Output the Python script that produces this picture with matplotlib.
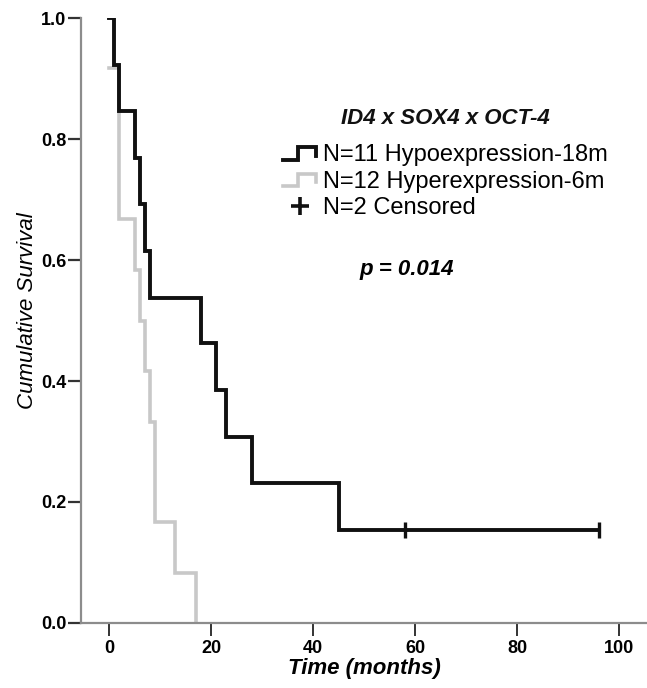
import matplotlib
matplotlib.use("Agg")
import matplotlib.pyplot as plt
from matplotlib.legend_handler import HandlerBase
from matplotlib.lines import Line2D

plt.rcParams["font.family"] = ["Liberation Sans", "DejaVu Sans"]

# Kaplan-Meier steps
hypo_time = [0, 1, 2, 5, 6, 7, 8, 18, 21, 23, 28, 45, 96]
hypo_surv = [1.0, 0.923, 0.846, 0.769, 0.692, 0.615, 0.538, 0.462, 0.385, 0.308, 0.231, 0.154, 0.154]
hyper_time = [0, 2, 5, 6, 7, 8, 9, 13, 17]
hyper_surv = [0.917, 0.667, 0.583, 0.5, 0.417, 0.333, 0.167, 0.083, 0.0]
censor_time = [58, 96]
censor_surv = [0.154, 0.154]

legend_title = "ID4 x SOX4 x OCT-4"
labels = ["N=11 Hypoexpression-18m", "N=12 Hyperexpression-6m", "N=2 Censored"]
x_ticks = [0, 20, 40, 60, 80, 100]
y_ticks = [0.0, 0.2, 0.4, 0.6, 0.8, 1.0]

BLACK = "#111111"
GREY = "#c8c8c8"
SPINE = "#8c8c8c"


class StepHandler(HandlerBase):
    def create_artists(self, legend, orig, xd, yd, width, height, fontsize, trans):
        x0, x1 = -xd, -xd + width
        lo, hi = -yd + 0.1 * height, -yd + 0.85 * height
        xm = x0 + 0.45 * width
        line = Line2D([x0, xm, xm, x1, x1], [lo, lo, hi, hi, lo + 0.25 * height],
                      color=orig.get_color(), lw=orig.get_linewidth(),
                      solid_joinstyle="miter", transform=trans)
        return [line]


fig = plt.figure(figsize=(6.47, 6.88), dpi=100)
ax = fig.add_axes([0.1252, 0.0945, 0.8748, 0.8793])

(hyper_line,) = ax.step(hyper_time, hyper_surv, where="post", color=GREY, lw=2.6,
                        solid_joinstyle="miter")
(hypo_line,) = ax.step(hypo_time, hypo_surv, where="post", color=BLACK, lw=2.8,
                       solid_joinstyle="miter")
ax.plot(censor_time, censor_surv, ls="none", marker="|", ms=11, mew=2.4, color=BLACK)
cens_handle = Line2D([], [], ls="none", marker="+", ms=13, mew=2.6, color=BLACK)

ax.set_xlim(-5.5, 105.5)
ax.set_ylim(0, 1.0)
ax.set_xticks(x_ticks)
ax.set_yticks(y_ticks)
ax.set_yticklabels([f"{v:.1f}" for v in y_ticks])
for side in ["top", "right"]:
    ax.spines[side].set_visible(False)
for side in ["left", "bottom"]:
    ax.spines[side].set_color(SPINE)
    ax.spines[side].set_linewidth(1.6)
ax.tick_params(axis="y", length=9.5, width=1.6, color="#333333", pad=1,
               labelsize=13)
ax.tick_params(axis="x", length=9, width=1.4, color="#333333", pad=3,
               labelsize=13)
for lab in ax.get_xticklabels() + ax.get_yticklabels():
    lab.set_fontweight("bold")

ax.set_xlabel("Time (months)", fontsize=16, fontweight="bold", style="italic",
              labelpad=1)
ax.set_ylabel("Cumulative Survival", fontsize=16, style="italic", labelpad=2)
ax.yaxis.label.set_y(0.517)

leg = ax.legend([hypo_line, hyper_line, cens_handle], labels,
                handler_map={hypo_line: StepHandler(), hyper_line: StepHandler()},
                title=legend_title,
                title_fontproperties={"size": 16, "weight": "bold", "style": "italic"},
                fontsize=17, frameon=False, loc="upper left",
                bbox_to_anchor=(0.357, 0.851), borderaxespad=0, borderpad=0,
                handlelength=1.4, handletextpad=0.3, labelspacing=0.18)
leg.get_title().set_color(BLACK)
leg._legend_box.sep = 11

ax.text(0.576, 0.585, "p = 0.014", transform=ax.transAxes, fontsize=16,
        fontweight="bold", style="italic", ha="center", va="center")

fig.savefig("out.png", dpi=100)
